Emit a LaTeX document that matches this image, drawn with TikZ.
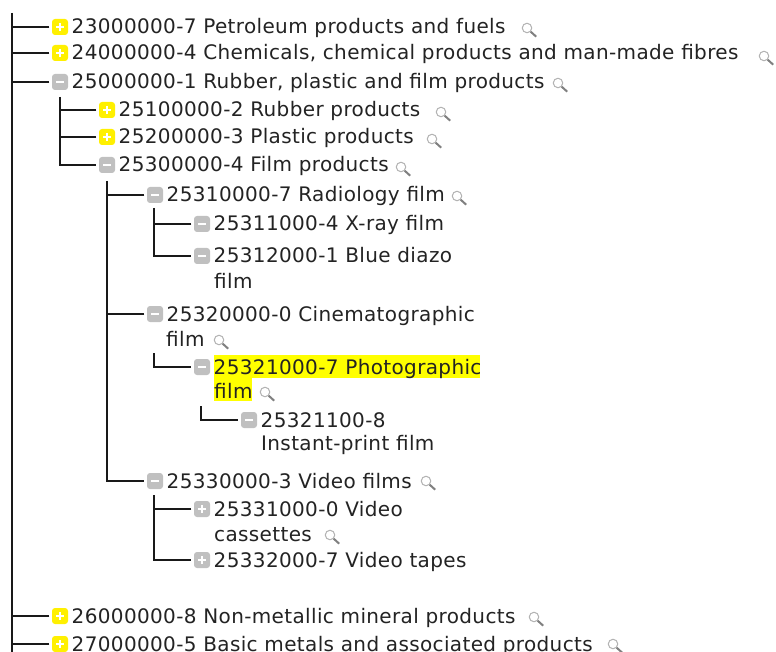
\documentclass[tikz,border=0pt]{standalone}
\usepackage{fontspec}
\setmainfont[LetterSpace=1.8]{DejaVu Sans}
\definecolor{plusyellow}{RGB}{255,240,0}
\definecolor{minusgray}{RGB}{192,192,192}
\definecolor{hlyellow}{RGB}{255,255,0}
\definecolor{inkc}{RGB}{35,35,35}
\newcommand{\itemrow}[6]{% name, x, y, style, symbol, text
  \node[iconbox,#4] (#1) at (#2,#3) {};
  \ifnum#5=1 \draw[iconsym] (#1.center) ++(-4,0) -- ++(8,0); \draw[iconsym] (#1.center) ++(0,-4) -- ++(0,8);
  \else \draw[iconsym] (#1.center) ++(-4,0) -- ++(8,0); \fi
  \node[rowtext] (#1t) at (#2+11.5,#3+7) {#6};
}
\newcommand{\contline}[4]{\node[rowtext] (#1) at (#2,#3) {#4};}
\newcommand{\lens}[3]{%
  \node[lensring] (#1) at (#2,#3) {};
  \draw[lenshandle] (#1.south east) -- ++(5.5,5);
}
\begin{document}
\begin{tikzpicture}[x=1pt,y=-1pt,
  iconbox/.style={minimum size=16pt,inner sep=0pt,rounded corners=3pt,draw=none},
  plus/.style={fill=plusyellow},
  minus/.style={fill=minusgray},
  iconsym/.style={white,line width=1.3pt},
  rowtext/.style={anchor=base west,inner sep=0pt,font=\fontsize{20}{22}\selectfont,text=inkc},
  lensring/.style={circle,draw=black!30,fill=white,line width=1pt,minimum size=9.5pt,inner sep=0pt},
  lenshandle/.style={black!50,line width=2pt},
  link/.style={black!90,line width=1.2pt},
  hl/.style={fill=hlyellow,draw=none,inner sep=0pt,anchor=north west}]
\useasboundingbox (0,0) rectangle (776,652);
\fill[white] (0,0) rectangle (776,652);
\node[hl,minimum width=266pt,minimum height=23pt] (hlone) at (214,355) {};
\node[hl,minimum width=38pt,minimum height=23pt] (hltwo) at (214,378) {};

\itemrow{a}{60}{27}{plus}{1}{23000000-7 Petroleum products and fuels}
\itemrow{b}{60}{53}{plus}{1}{24000000-4 Chemicals, chemical products and man-made fibres}
\itemrow{c}{60}{82}{minus}{0}{25000000-1 Rubber, plastic and film products}
\itemrow{ca}{107}{110}{plus}{1}{25100000-2 Rubber products}
\itemrow{cb}{107}{137}{plus}{1}{25200000-3 Plastic products}
\itemrow{cc}{107}{165}{minus}{0}{25300000-4 Film products}
\itemrow{ccA}{155}{195}{minus}{0}{25310000-7 Radiology film}
\itemrow{ccAa}{202}{224}{minus}{0}{25311000-4 X-ray film}
\itemrow{ccAb}{202}{256}{minus}{0}{25312000-1 Blue diazo}
\contline{ccAbx}{214}{288}{film}
\itemrow{ccB}{155}{314}{minus}{0}{25320000-0 Cinematographic}
\contline{ccBx}{166}{346}{film}
\itemrow{ccBa}{202}{367}{minus}{0}{25321000-7 Photographic}
\contline{ccBax}{214}{398}{film}
\itemrow{ccBaa}{249}{420}{minus}{0}{25321100-8}
\contline{ccBaax}{261}{450}{Instant-print film}
\itemrow{ccC}{155}{481}{minus}{0}{25330000-3 Video films}
\itemrow{ccCa}{202}{509}{minus}{1}{25331000-0 Video}
\contline{ccCax}{214}{541}{cassettes}
\itemrow{ccCb}{202}{560}{minus}{1}{25332000-7 Video tapes}
\itemrow{d}{60}{616}{plus}{1}{26000000-8 Non-metallic mineral products}
\itemrow{e}{60}{644}{plus}{1}{27000000-5 Basic metals and associated products}

\coordinate (rootT) at (12,13);
\coordinate (rootB) at (12,652);
\draw[link] (rootT) -- (rootB);
\foreach \n in {a,b,c,d,e} \draw[link,shorten <=2.5pt] (\n.west) -- (\n.west -| rootT);
\coordinate (cT) at (60,97);
\draw[link,shorten >=2.5pt] (cT) |- (cc.west);
\foreach \n in {ca,cb} \draw[link,shorten <=2.5pt] (\n.west) -- (\n.west -| cT);
\coordinate (ccT) at (107,181);
\draw[link,shorten >=2.5pt] (ccT) |- (ccC.west);
\foreach \n in {ccA,ccB} \draw[link,shorten <=2.5pt] (\n.west) -- (\n.west -| ccT);
\coordinate (ccAT) at (154,208);
\draw[link,shorten >=2.5pt] (ccAT) |- (ccAb.west);
\draw[link,shorten <=2.5pt] (ccAa.west) -- (ccAa.west -| ccAT);
\coordinate (ccBT) at (154,353);
\draw[link,shorten >=2.5pt] (ccBT) |- (ccBa.west);
\coordinate (ccBaT) at (201,406);
\draw[link,shorten >=2.5pt] (ccBaT) |- (ccBaa.west);
\coordinate (ccCT) at (154,495);
\draw[link,shorten >=2.5pt] (ccCT) |- (ccCb.west);
\draw[link,shorten <=2.5pt] (ccCa.west) -- (ccCa.west -| ccCT);

\lens{l1}{527}{28}
\lens{l2}{764}{56}
\lens{l3}{558}{83}
\lens{l4}{441}{112}
\lens{l5}{432}{139}
\lens{l6}{401}{167}
\lens{l7}{457}{196}
\lens{l8}{219}{340}
\lens{l9}{265}{392}
\lens{l10}{426}{481}
\lens{l11}{330}{535}
\lens{l12}{534}{617}
\lens{l13}{613}{644}
\end{tikzpicture}
\end{document}
